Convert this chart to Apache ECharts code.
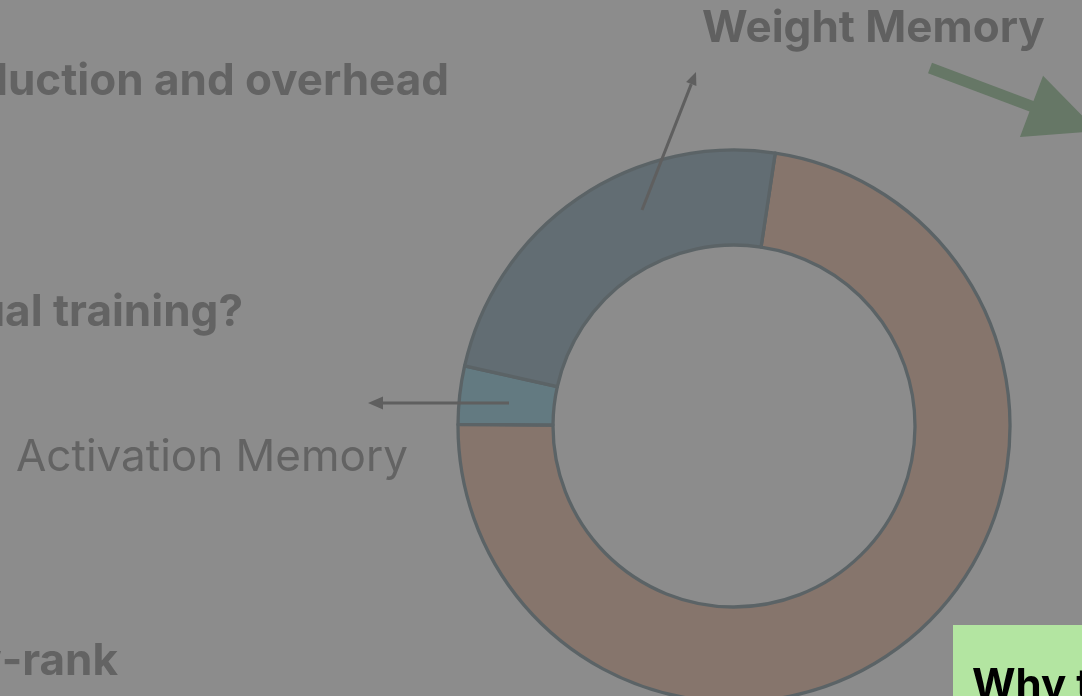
<!DOCTYPE html>
<html>
<head>
<meta charset="utf-8">
<title>Memory breakdown</title>
<script src="https://cdn.jsdelivr.net/npm/echarts@6/dist/echarts.min.js"></script>
<style>
  html, body { margin: 0; padding: 0; background: #8c8c8c; overflow: hidden; }
  #chart { width: 1082px; height: 696px; }
</style>
</head>
<body>
<div id="chart"></div>
<script>
// Share of training memory per component (percent), drawn clockwise
const categories = ['Other Memory', 'Activation Memory', 'Weight Memory'];
const memoryShare = [72.7, 3.4, 23.9];
const sliceColors = ['#86756c', '#637a81', '#626d73'];

// Slide text around the ring
const headingLines = ['Memory reduction and overhead', 'Why not use it for actual training?', 'Low-rank'];
const weightLabel = 'Weight Memory';
const activationLabel = 'Activation Memory';
const calloutText = 'Why this works?';

const FONT = 'Inter, "Noto Sans", sans-serif';
const TEXT_GREY = '#636363';
const LINE_GREY = '#5f5f5f';
const FONT_SIZE = 44;

// Straight leader line with a filled triangular head at (x2, y2)
function arrow(x1, y1, x2, y2, headLen, headHalf, color, width) {
  const dx = x2 - x1, dy = y2 - y1;
  const len = Math.hypot(dx, dy);
  const ux = dx / len, uy = dy / len;
  const bx = x2 - ux * headLen, by = y2 - uy * headLen;
  const px = -uy, py = ux;
  return {
    type: 'group',
    z: 10,
    children: [
      { type: 'line', z: 10, shape: { x1: x1, y1: y1, x2: bx, y2: by },
        style: { stroke: color, lineWidth: width } },
      { type: 'polygon', z: 10,
        shape: { points: [[x2, y2], [bx + px * headHalf, by + py * headHalf], [bx - px * headHalf, by - py * headHalf]] },
        style: { fill: color } }
    ]
  };
}

// Block arrow (shaft + head) drawn as one polygon
function blockArrow(x1, y1, x2, y2, shaftHalf, headLen, headHalf, color) {
  const dx = x2 - x1, dy = y2 - y1;
  const len = Math.hypot(dx, dy);
  const ux = dx / len, uy = dy / len;
  const px = -uy, py = ux;
  const bx = x2 - ux * headLen, by = y2 - uy * headLen;
  return {
    type: 'polygon',
    z: 10,
    shape: { points: [
      [x1 + px * shaftHalf, y1 + py * shaftHalf],
      [bx + px * shaftHalf, by + py * shaftHalf],
      [bx + px * headHalf, by + py * headHalf],
      [x2, y2],
      [bx - px * headHalf, by - py * headHalf],
      [bx - px * shaftHalf, by - py * shaftHalf],
      [x1 - px * shaftHalf, y1 - py * shaftHalf]
    ] },
    style: { fill: color }
  };
}

function label(text, x, y, align, weight, size, color) {
  return {
    type: 'text',
    z: 10,
    x: x, y: y,
    style: {
      text: text,
      fill: color,
      font: weight + ' ' + size + 'px ' + FONT,
      align: align, textAlign: align,
      verticalAlign: 'middle', textVerticalAlign: 'middle'
    }
  };
}

const chart = echarts.init(document.getElementById('chart'), null, { renderer: 'canvas' });

chart.setOption({
  animation: false,
  backgroundColor: '#8c8c8c',
  series: [{
    type: 'pie',
    silent: true,
    z: 2,
    center: [734, 426],
    radius: [181, 276],
    startAngle: 81.4,
    clockwise: true,
    avoidLabelOverlap: false,
    label: { show: false },
    labelLine: { show: false },
    itemStyle: { borderColor: '#5b6366', borderWidth: 3.3 },
    data: categories.map((name, i) => ({
      name: name,
      value: memoryShare[i],
      itemStyle: { color: sliceColors[i] }
    }))
  }],
  graphic: [
    label(headingLines[0], 449, 82, 'right', 'bold', FONT_SIZE, TEXT_GREY),
    label(headingLines[1], 243, 313, 'right', 'bold', FONT_SIZE, TEXT_GREY),
    label(headingLines[2], 118, 662, 'right', 'bold', FONT_SIZE, TEXT_GREY),
    label(weightLabel, 702, 29, 'left', 'bold', FONT_SIZE, '#606060'),
    label(activationLabel, 16, 458, 'left', 'normal', FONT_SIZE, TEXT_GREY),
    arrow(642, 210, 696, 72, 13, 5.5, LINE_GREY, 3),
    arrow(509, 403, 368, 403, 15, 6.5, LINE_GREY, 3),
    blockArrow(930, 68, 1097, 131, 5.6, 70, 32.7, '#667766'),
    {
      type: 'rect',
      z: 10,
      shape: { x: 953, y: 625, width: 140, height: 90 },
      style: { fill: '#b3e5a1' }
    },
    label(calloutText, 972, 686, 'left', 'bold', 42, '#000000')
  ]
});
</script>
</body>
</html>
